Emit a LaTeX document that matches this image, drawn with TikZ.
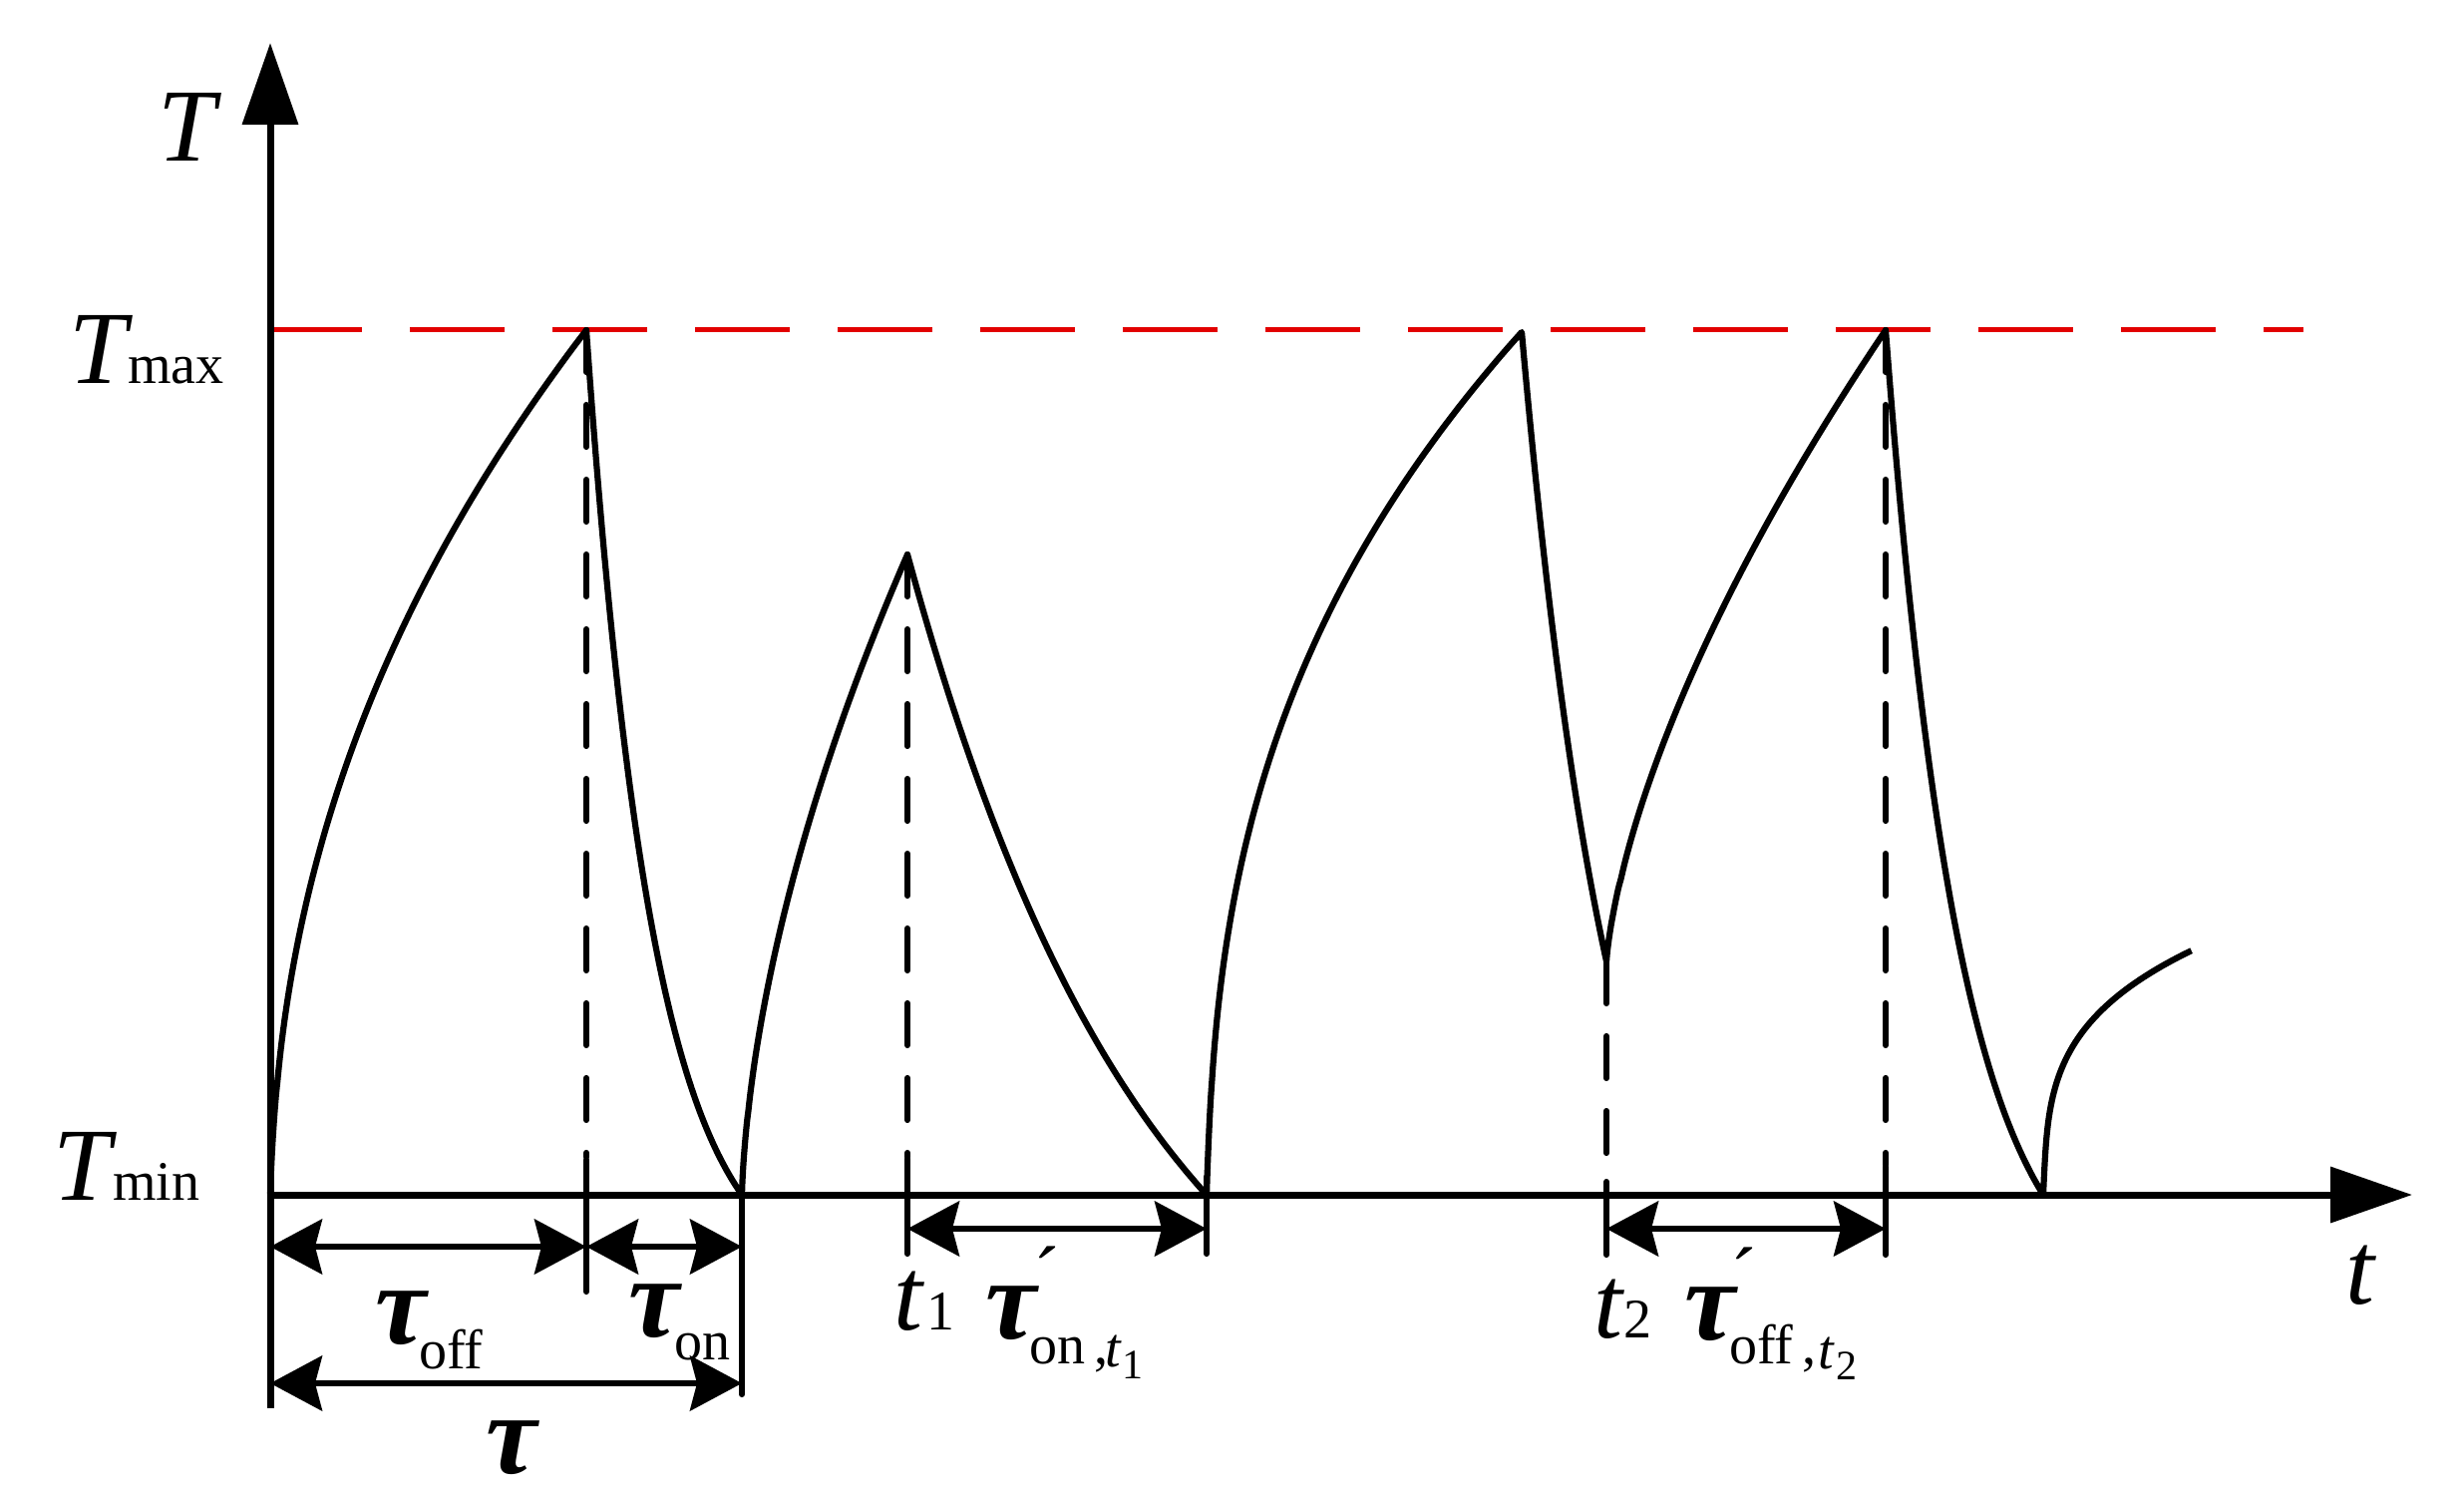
\documentclass[tikz,border=0pt]{standalone}
\usepackage{fontspec}
\setmainfont{Liberation Serif}
\usetikzlibrary{arrows.meta}
\definecolor{limred}{RGB}{226,0,0}
\begin{document}
\begin{tikzpicture}[x=0.1pt,y=-0.1pt,
  axisline/.style={line width=0.7pt,-{Triangle[length=8.2pt,width=5.5pt]}},
  curveline/.style={line width=0.62pt,line join=round},
  vdash/.style={line width=0.62pt,line cap=round,dash pattern=on 4.2pt off 3.3pt},
  tickline/.style={line width=0.62pt,line cap=round},
  dimarrow/.style={line width=0.62pt,{Stealth[length=5.2pt,width=5.5pt,inset=0.7pt]}-{Stealth[length=5.2pt,width=5.5pt,inset=0.7pt]}},
  limline/.style={line width=0.5pt,limred,dash pattern=on 9.5pt off 4.8pt},
  lbl/.style={anchor=base west,inner sep=0pt,outer sep=0pt},
  big/.style={font=\fontsize{10.4}{12}\selectfont\itshape},
  tau/.style={font=\fontsize{11.5}{13}\selectfont\itshape\bfseries},
  sub/.style={font=\fontsize{5.6}{7}\selectfont},
  subit/.style={font=\fontsize{5.6}{7}\selectfont\itshape},
  subsub/.style={font=\fontsize{4.2}{5}\selectfont},
  primemark/.style={font=\fontsize{8}{9}\selectfont}]
\useasboundingbox (0,0) rectangle (2471,1495);

% key coordinates
\coordinate (O) at (271,1198);
\coordinate (Ytip) at (271,43);
\coordinate (Ybot) at (271,1412);
\coordinate (Xstart) at (268,1198);
\coordinate (Xtip) at (2419,1198);

% Tmax dashed line
\coordinate (Lstart) at (268,331);
\coordinate (Lend) at (2310,331);
\draw[limline] (Lstart) -- (Lend);

% dashed verticals and ticks
\coordinate (P1) at (588,331);   \coordinate (P1a) at (588,1160); \coordinate (P1b) at (588,1163); \coordinate (P1c) at (588,1295);
\coordinate (A1) at (744,1190);  \coordinate (A1b) at (744,1398);
\coordinate (P2) at (910,556);   \coordinate (P2a) at (910,1160); \coordinate (P2b) at (910,1162); \coordinate (P2c) at (910,1257);
\coordinate (A2) at (1210,1180); \coordinate (A2b) at (1210,1257);
\coordinate (P3) at (1611,964);  \coordinate (P3a) at (1611,1185); \coordinate (P3b) at (1611,1185); \coordinate (P3c) at (1611,1258);
\coordinate (P4) at (1891,331);  \coordinate (P4a) at (1891,1168); \coordinate (P4b) at (1891,1170); \coordinate (P4c) at (1891,1258);

\draw[vdash] (P1) -- (P1a);
\draw[tickline] (P1b) -- (P1c);
\draw[tickline] (A1) -- (A1b);
\draw[vdash] (P2) -- (P2a);
\draw[tickline] (P2b) -- (P2c);
\draw[tickline] (A2) -- (A2b);
\draw[vdash] (P3) -- (P3a);
\draw[tickline] (P3b) -- (P3c);
\draw[vdash] (P4) -- (P4a);
\draw[tickline] (P4b) -- (P4c);

% temperature curve (rises: x = x0 + dx*(f^p + c f)/(1+c), y = y0 - H*f; decays: exponential)
\draw[curveline]
  plot[domain=0.001:1,samples=70,smooth] ({271+317*((\x)^2.2+0.1*\x)/1.1},{1198-867*\x})
  -- plot[domain=0:1,samples=60,smooth] ({588+156*\x},{331+867*(1-exp(-2.3*\x))/(1-exp(-2.3))})
  -- plot[domain=0.001:1,samples=70,smooth] ({744+166*((\x)^1.75+0.1*\x)/1.1},{1198-642*\x})
  -- plot[domain=0:1,samples=60,smooth] ({910+300*\x},{556+642*(1-exp(-1.2*\x))/(1-exp(-1.2))})
  -- plot[domain=0.001:1,samples=70,smooth] ({1210+316*((\x)^2.6+0.1*\x)/1.1},{1198-865*\x})
  -- plot[domain=0:1,samples=60,smooth] ({1526+85*\x},{333+631*(1-exp(-0.9*\x))/(1-exp(-0.9))})
  -- plot[domain=0.001:1,samples=70,smooth] ({1611+280*((\x)^1.6+0.15*\x)/1.15},{964-633*\x})
  -- plot[domain=0:1,samples=60,smooth] ({1891+158*\x},{331+867*(1-exp(-2.1*\x))/(1-exp(-2.1))})
  -- plot[domain=0.001:1,samples=70,smooth] ({2049+149*((\x)^3.6+0.08*\x)/1.08},{1198-245*\x});

% axes
\draw[axisline] (Ybot) -- (Ytip);
\draw[axisline] (Xstart) -- (Xtip);

% dimension arrows
\coordinate (D1l) at (271,1250); \coordinate (D1m) at (588,1250); \coordinate (D1r) at (744,1250);
\coordinate (D2l) at (271,1387); \coordinate (D2r) at (744,1387);
\coordinate (D3l) at (910,1232); \coordinate (D3r) at (1210,1232);
\coordinate (D4l) at (1611,1232); \coordinate (D4r) at (1891,1232);
\draw[dimarrow] (D1l) -- (D1m);
\draw[dimarrow] (D1m) -- (D1r);
\draw[dimarrow] (D2l) -- (D2r);
\draw[dimarrow] (D3l) -- (D3r);
\draw[dimarrow] (D4l) -- (D4r);

% labels
\node[lbl,big] (Tlab) at (158,162) {T};
\node[lbl,big] (Tmaxlab) at (70,385) {T};
\node[lbl,sub] (Tmaxsub) at (128,385) {max};
\node[lbl,big] (Tminlab) at (54,1203) {T};
\node[lbl,sub] (Tminsub) at (113,1203) {min};
\node[lbl,big] (tlab) at (2352,1307) {t};

\node[lbl,big] (t1lab) at (896,1333) {t};
\node[lbl,sub] (t1sub) at (929,1333) {1};
\node[lbl,big] (t2lab) at (1598,1341) {t};
\node[lbl,sub] (t2sub) at (1628,1341) {2};

\node[lbl,tau] (tauoff) at (376,1347) {τ};
\node[lbl,sub] (tauoffsub) at (420,1372) {off};
\node[lbl,tau] (tauon) at (630,1340) {τ};
\node[lbl,sub] (tauonsub) at (676,1363) {on};
\node[lbl,tau] (taulab) at (487,1477) {τ};

\node[lbl,tau] (tauont) at (988,1342) {τ};
\node[lbl,primemark] (tauontpr) at (1036,1305) {´};
\node[lbl,sub] (tauontsub) at (1032,1367) {on\,,};
\node[lbl,subit] (tauontt) at (1108,1370) {t};
\node[lbl,subsub] (tauontone) at (1125,1382) {1};

\node[lbl,tau] (tauofft) at (1689,1343) {τ};
\node[lbl,primemark] (tauofftpr) at (1735,1306) {´};
\node[lbl,sub] (tauofftsub) at (1734,1367) {off\,,};
\node[lbl,subit] (tauofftt) at (1823,1372) {t};
\node[lbl,subsub] (tauofftone) at (1841,1383) {2};
\end{tikzpicture}
\end{document}
